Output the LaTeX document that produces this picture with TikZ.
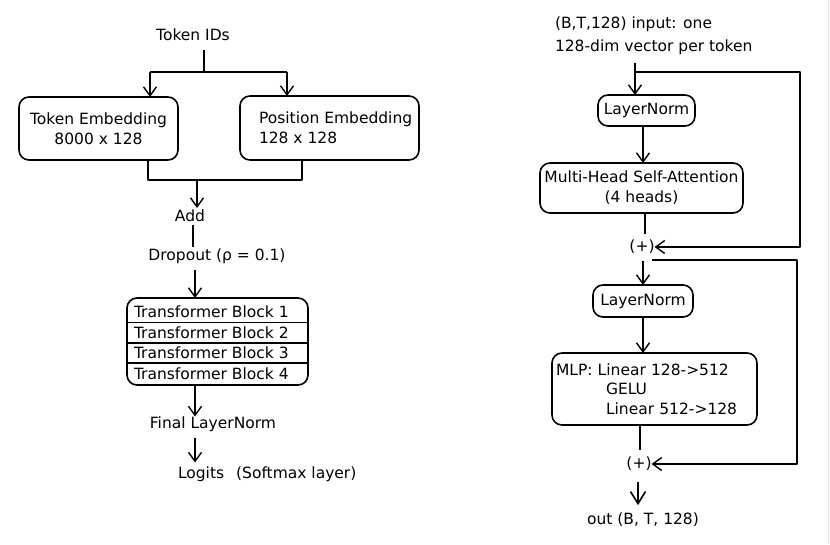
\documentclass[tikz,border=0pt]{standalone}
\usepackage{fontspec}
\setmainfont{DejaVu Sans}
\usetikzlibrary{arrows.meta}
\begin{document}
\begin{tikzpicture}[x=1pt,y=-1pt,
  line width=1.6pt, line join=round,
  every node/.style={font=\fontsize{15.5}{19.5}\selectfont, inner sep=0pt, outer sep=0pt},
  box/.style={draw, rounded corners=10pt, line width=1.6pt},
  arr/.style={-{Straight Barb[length=9pt,width=13pt,line width=1.4pt]}},
  bigarr/.style={-{Straight Barb[length=12pt,width=15pt,line width=1.6pt]}},
]
\useasboundingbox (0,0) rectangle (830,544);
\fill[white] (0,0) rectangle (830,544);
\draw[line width=1pt, black!10] (828.5,0) -- (828.5,544);

% ---------------- left diagram ----------------
\node (tid) at (193,35) {Token IDs};
\coordinate (split) at (204,72);
\coordinate (lj) at (150,72);
\coordinate (rj) at (287,72);
\node[box, minimum width=159pt, minimum height=63pt, align=center] (te) at (98.5,128.5) {Token Embedding\\8000 x 128};
\node[box, minimum width=179pt, minimum height=64pt] (pe) at (329.5,128) {};
\node[anchor=west, align=left, font=\fontsize{15.5}{20}\selectfont] (pet) at (259,128) {Position Embedding\\128 x 128};

\draw[shorten <=9pt] (split |- tid.south) -- (split);
\draw (lj) -- (rj);
\draw[arr] (lj) -- (lj |- te.north);
\draw[arr] (rj) -- (rj |- pe.north);

\coordinate (ml) at (148,180);
\coordinate (mr) at (302,180);
\coordinate (mc) at (197,181);
\draw (ml |- te.south) -- (ml) -- (mr) -- (mr |- pe.south);

\node (add) at (190,216) {Add};
\draw[arr, shorten >=2pt] (mc) -- (mc |- add.north);

\node (drop) at (217,256) {Dropout (ρ = 0.1)};
\coordinate (ac) at (193,0);
\draw[shorten <=3pt, shorten >=2pt] (ac |- add.south) -- (ac |- drop.north);

\coordinate (sp) at (195,0);
\node[box, minimum width=181pt, minimum height=87pt] (tb) at (217.5,341.5) {};
\draw[arr, shorten <=7pt] (sp |- drop.south) -- (sp |- tb.north);
\draw (127,322.5) -- (308,322.5);
\draw (127,343) -- (308,343);
\draw (127,363) -- (308,363);
\node[anchor=west] (b1) at (134,312) {Transformer Block 1};
\node[anchor=west] (b2) at (134,333) {Transformer Block 2};
\node[anchor=west] (b3) at (134,353) {Transformer Block 3};
\node[anchor=west] (b4) at (134,373.5) {Transformer Block 4};

\node (fln) at (213,424) {Final LayerNorm};
\draw[arr] (sp |- tb.south) -- (sp |- fln.north);

\node[anchor=west] (log) at (178,474) {Logits\hspace{12pt}(Softmax layer)};
\draw[arr, shorten <=6pt, shorten >=4pt] (sp |- fln.south) -- (sp |- log.north);

% ---------------- right diagram ----------------
\node[anchor=west, align=left, font=\fontsize{15.5}{23}\selectfont] (inp) at (555,35.5) {(B,T,128) input: one\\128-dim vector per token};
\coordinate (c1) at (635,0);
\coordinate (s1a) at (635,72);
\coordinate (s1b) at (800,72);

\node[box, minimum width=97pt, minimum height=31pt] (ln1) at (646.5,110.5) {LayerNorm};
\draw[shorten <=8pt] (c1 |- inp.south) -- (s1a);
\draw[arr] (s1a) -- (c1 |- ln1.north);

\node[box, minimum width=203pt, minimum height=50pt, align=center, font=\fontsize{15.5}{20}\selectfont] (mh) at (641.5,188) {Multi-Head Self-Attention\\(4 heads)};
\coordinate (c2) at (643,0);
\draw[arr] (c2 |- ln1.south) -- (c2 |- mh.north);

\node (plus1) at (642,247) {(+)};
\coordinate (c3) at (645,0);
\draw[shorten >=6pt] (c3 |- mh.south) -- (c3 |- plus1.north);
\draw[arr] (s1a) -- (s1b) -- (s1b |- plus1) -- (plus1.east);

\node[box, minimum width=100pt, minimum height=32pt] (ln2) at (643,301) {LayerNorm};
\draw[arr, shorten <=7pt] (c2 |- plus1.south) -- (c2 |- ln2.north);

\coordinate (s2a) at (652,260);
\coordinate (s2b) at (797,260);

\node[box, minimum width=205pt, minimum height=72pt, text width=197pt, align=left] (mlp) at (654.5,389) {MLP: Linear 128->512\\\hspace*{50pt}GELU\\\hspace*{50pt}Linear 512->128};
\draw[arr] (c2 |- ln2.south) -- (c2 |- mlp.north);

\node (plus2) at (639,464) {(+)};
\coordinate (c4) at (640,0);
\draw[shorten >=7pt] (c4 |- mlp.south) -- (c4 |- plus2.north);
\draw[arr] (s2a) -- (s2b) -- (s2b |- plus2) -- (plus2.east);

\node (out) at (643,520) {out (B, T, 128)};
\coordinate (c5) at (638,0);
\draw[bigarr, shorten <=11pt, shorten >=8pt] (c5 |- plus2.south) -- (c5 |- out.north);
\end{tikzpicture}
\end{document}
